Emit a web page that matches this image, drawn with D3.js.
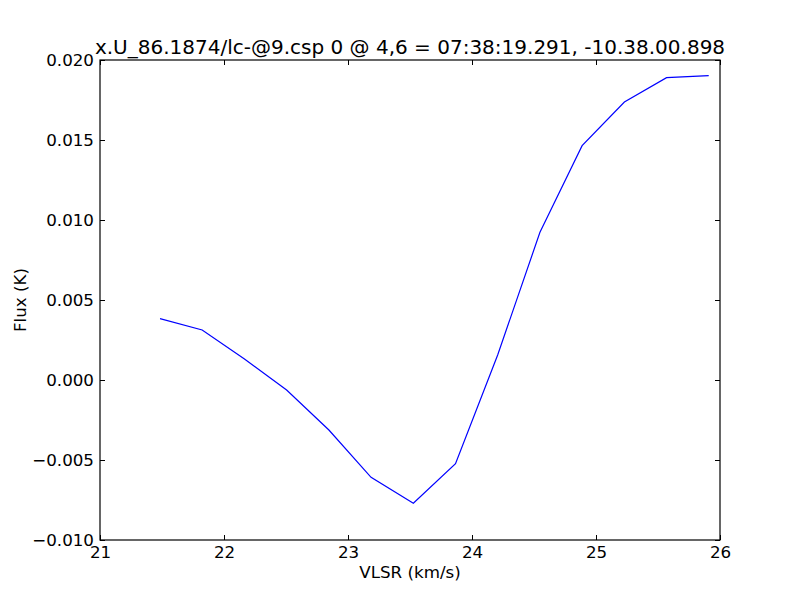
<!DOCTYPE html>
<html><head><meta charset="utf-8">
<script src="https://cdn.jsdelivr.net/npm/d3@7"></script>
<style>body{margin:0;background:#fff}svg{display:block}text{font-family:"DejaVu Sans",sans-serif;fill:#000}</style>
</head><body>
<script>
const velocity = [21.484, 21.824, 22.165, 22.505, 22.846, 23.186, 23.527, 23.867, 24.207, 24.548, 24.888, 25.229, 25.569, 25.909];
const flux = [0.003831, 0.003125, 0.001313, -0.000625, -0.003125, -0.006081, -0.007706, -0.005231, 0.001563, 0.009231, 0.014644, 0.017375, 0.018894, 0.019019];
const xTicks = [21, 22, 23, 24, 25, 26];
const yTicks = [-0.010, -0.005, 0.000, 0.005, 0.010, 0.015, 0.020];
const title = "x.U_86.1874/lc-@9.csp 0 @ 4,6 = 07:38:19.291, -10.38.00.898";
const xLabel = "VLSR (km/s)";
const yLabel = "Flux (K)";

(function () {
const W = 800, H = 600, L = 100, R = 720, T = 60, B = 540;
const svg = d3.select("body").append("svg").attr("width", W).attr("height", H);
const x = d3.scaleLinear().domain([21, 26]).range([L, R]);
const y = d3.scaleLinear().domain([-0.010, 0.020]).range([B, T]);
const fmtY = v => d3.format(".3f")(v).replace("-", "\u2212");
const tl = 5, fs = 16.7;

svg.append("path").datum(velocity.map((v, i) => [v, flux[i]]))
  .attr("fill", "none").attr("stroke", "#0000ff").attr("stroke-width", 1.2)
  .attr("d", d3.line().x(d => x(d[0])).y(d => y(d[1])));

const gB = svg.append("g").attr("transform", `translate(0,${B})`)
  .call(d3.axisBottom(x).tickValues(xTicks).tickSizeInner(-tl).tickSizeOuter(0).tickPadding(6).tickFormat(d3.format("d")));
const gT = svg.append("g").attr("transform", `translate(0,${T})`)
  .call(d3.axisTop(x).tickValues(xTicks).tickSizeInner(-tl).tickSizeOuter(0).tickFormat(""));
const gL = svg.append("g").attr("transform", `translate(${L},0)`)
  .call(d3.axisLeft(y).tickValues(yTicks).tickSizeInner(-tl).tickSizeOuter(0).tickPadding(6).tickFormat(fmtY));
const gR = svg.append("g").attr("transform", `translate(${R},0)`)
  .call(d3.axisRight(y).tickValues(yTicks).tickSizeInner(-tl).tickSizeOuter(0).tickFormat(""));
[gB, gT, gL, gR].forEach(g => {
  g.select(".domain").remove();
  g.selectAll(".tick line").attr("stroke", "#000").attr("stroke-width", 1);
  g.selectAll("text").style("font-size", fs + "px").attr("fill", "#000").style("font-family", "DejaVu Sans");
});

svg.append("rect").attr("x", L).attr("y", T).attr("width", R - L).attr("height", B - T)
  .attr("fill", "none").attr("stroke", "#000").attr("stroke-width", 1.2);

svg.append("text").attr("x", (L + R) / 2).attr("y", 54).attr("text-anchor", "middle")
  .style("font-size", "20px").text(title);
svg.append("text").attr("x", (L + R) / 2).attr("y", 578).attr("text-anchor", "middle")
  .style("font-size", fs + "px").text(xLabel);
svg.append("text").attr("transform", `translate(26,${(T + B) / 2}) rotate(-90)`).attr("text-anchor", "middle")
  .style("font-size", fs + "px").text(yLabel);
})();
</script>
</body></html>
